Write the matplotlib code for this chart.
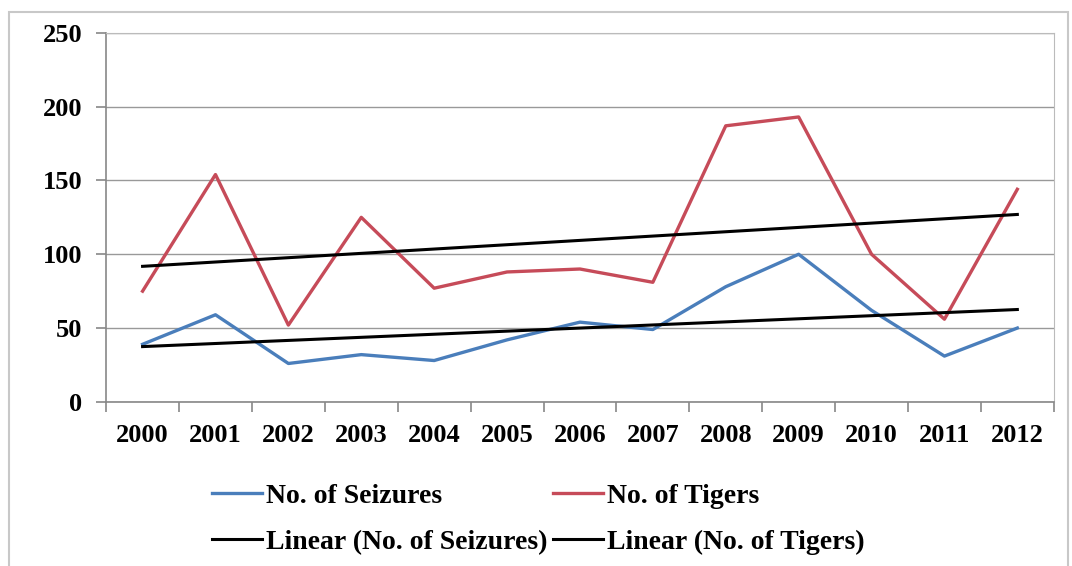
import numpy as np
from matplotlib import pyplot as plt
from matplotlib.patches import Rectangle

years = ['2000', '2001', '2002', '2003', '2004', '2005', '2006',
         '2007', '2008', '2009', '2010', '2011', '2012']
seizures = [39, 59, 26, 32, 28, 42, 54, 49, 78, 100, 62, 31, 50]
tigers = [75, 154, 52, 125, 77, 88, 90, 81, 187, 193, 100, 56, 144]

plt.rcParams['font.family'] = ['Liberation Serif', 'DejaVu Serif']
plt.rcParams['font.weight'] = 'bold'

fig = plt.figure(figsize=(10.72, 5.66), dpi=100)
fig.patches.append(Rectangle((0.008, -0.1), 0.988, 1.078, transform=fig.transFigure,
                             fill=False, edgecolor='#c8c8c8', lw=1.5))
ax = fig.add_axes([0.099, 0.290, 0.884, 0.652])

x = np.arange(len(years))
l1, = ax.plot(x, seizures, color='#4A7EBB', lw=2.4, label='No. of Seizures')
l2, = ax.plot(x, tigers, color='#C64B59', lw=2.4, label='No. of Tigers')
# linear trendlines like Excel
p1 = np.polyfit(x, seizures, 1)
p2 = np.polyfit(x, tigers, 1)
t1, = ax.plot(x, np.polyval(p1, x), color='black', lw=2.2, label='Linear (No. of Seizures)')
t2, = ax.plot(x, np.polyval(p2, x), color='black', lw=2.2, label='Linear (No. of Tigers)')

ax.set_xlim(-0.5, len(years) - 0.5)
ax.set_ylim(0, 250)
ax.set_yticks(range(0, 251, 50))
ax.set_xticks(x)
ax.set_xticklabels(years)
ax.set_xticks(np.arange(-0.5, len(years), 1), minor=True)
ax.tick_params(axis='x', which='major', length=0, pad=16, labelsize=19)
ax.tick_params(axis='x', which='minor', length=7, color='#888888', width=1.2)
ax.tick_params(axis='y', length=7, color='#888888', width=1.2, labelsize=19, pad=10)
ax.grid(axis='y', color='#999999', lw=1)
ax.set_axisbelow(True)
for s in ['top', 'right']:
    ax.spines[s].set_color('#bbbbbb')
for s in ['left', 'bottom']:
    ax.spines[s].set_color('#888888')
    ax.spines[s].set_linewidth(1.2)

fig.legend([l1, t1, l2, t2],
           ['No. of Seizures', 'Linear (No. of Seizures)', 'No. of Tigers', 'Linear (No. of Tigers)'],
           ncol=2, loc='center', bbox_to_anchor=(0.502, 0.083), frameon=False,
           fontsize=20, handlelength=1.8, handletextpad=0.15, columnspacing=0.2,
           labelspacing=0.75)

plt.savefig('out.png', dpi=100)
